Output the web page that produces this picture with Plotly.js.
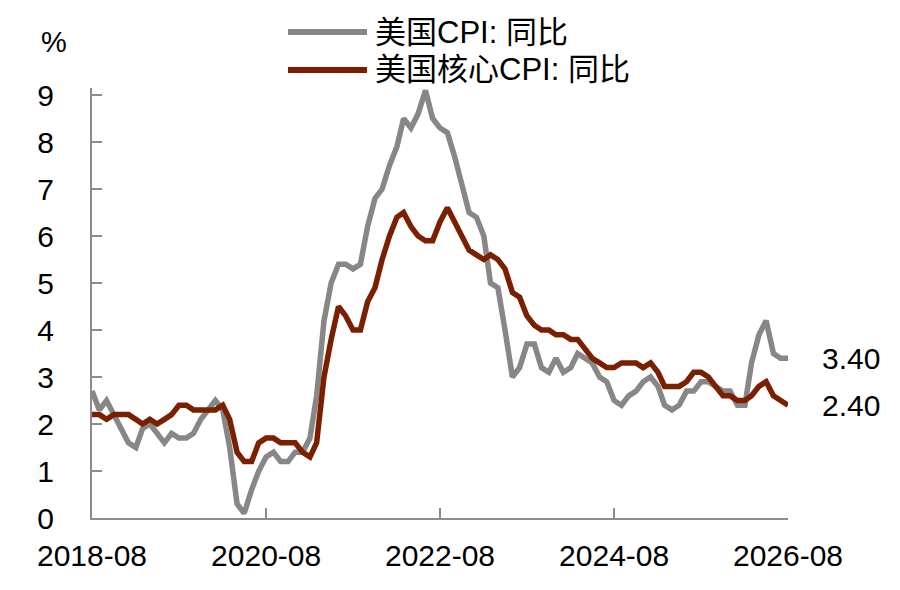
<!DOCTYPE html>
<html>
<head>
<meta charset="utf-8">
<script src="https://cdn.plot.ly/plotly-3.0.1.min.js"></script>
<style>
  html, body { margin: 0; padding: 0; background: #fff; }
  #chart { width: 900px; height: 590px; outline: 2px solid #0000ff; outline-offset: -2px; }
</style>
</head>
<body>
<div id="chart"></div>
<script>
// ---- data ----
const startMonth = '2018-08';
const endMonth = '2026-08';
const seriesNames = ['美国CPI: 同比', '美国核心CPI: 同比'];
const tickLabels = ['2018-08', '2020-08', '2022-08', '2024-08', '2026-08'];
const yTicks = [0, 1, 2, 3, 4, 5, 6, 7, 8, 9];

const cpi = [
  2.7, 2.3, 2.5, 2.2, 1.9,
  1.6, 1.5, 1.9, 2.0, 1.8, 1.6, 1.8, 1.7, 1.7, 1.8, 2.1, 2.3,
  2.5, 2.3, 1.5, 0.3, 0.1, 0.6, 1.0, 1.3, 1.4, 1.2, 1.2, 1.4,
  1.4, 1.7, 2.6, 4.2, 5.0, 5.4, 5.4, 5.3, 5.4, 6.2, 6.8, 7.0,
  7.5, 7.9, 8.5, 8.3, 8.6, 9.1, 8.5, 8.3, 8.2, 7.7, 7.1, 6.5,
  6.4, 6.0, 5.0, 4.9, 4.0, 3.0, 3.2, 3.7, 3.7, 3.2, 3.1, 3.4,
  3.1, 3.2, 3.5, 3.4, 3.3, 3.0, 2.9, 2.5, 2.4, 2.6, 2.7, 2.9,
  3.0, 2.8, 2.4, 2.3, 2.4, 2.7, 2.7, 2.9, 2.9, 2.8, 2.7, 2.7,
  2.4, 2.4, 3.3, 3.9, 4.2, 3.5, 3.4, 3.4
];
const coreCpi = [
  2.2, 2.2, 2.1, 2.2, 2.2,
  2.2, 2.1, 2.0, 2.1, 2.0, 2.1, 2.2, 2.4, 2.4, 2.3, 2.3, 2.3,
  2.3, 2.4, 2.1, 1.4, 1.2, 1.2, 1.6, 1.7, 1.7, 1.6, 1.6, 1.6,
  1.4, 1.3, 1.6, 3.0, 3.8, 4.5, 4.3, 4.0, 4.0, 4.6, 4.9, 5.5,
  6.0, 6.4, 6.5, 6.2, 6.0, 5.9, 5.9, 6.3, 6.6, 6.3, 6.0, 5.7,
  5.6, 5.5, 5.6, 5.5, 5.3, 4.8, 4.7, 4.3, 4.1, 4.0, 4.0, 3.9,
  3.9, 3.8, 3.8, 3.6, 3.4, 3.3, 3.2, 3.2, 3.3, 3.3, 3.3, 3.2,
  3.3, 3.1, 2.8, 2.8, 2.8, 2.9, 3.1, 3.1, 3.0, 2.8, 2.6, 2.6,
  2.5, 2.5, 2.6, 2.8, 2.9, 2.6, 2.5, 2.4
];

// month labels generated from start month (categories of the x axis)
function buildMonths(start, n) {
  const [y0, m0] = start.split('-').map(Number);
  const out = [];
  for (let i = 0; i < n; i++) {
    const t = (m0 - 1) + i;
    const y = y0 + Math.floor(t / 12);
    const m = (t % 12) + 1;
    out.push(y + '-' + String(m).padStart(2, '0') + '-01');
  }
  return out;
}
const months = buildMonths(startMonth, cpi.length);

// ---- styles ----
const GRAY = '#878787';
const RED = '#7a2000';
const AXIS = '#8c8c8c';
const FONT = '"Liberation Sans", Arial, "Noto Sans CJK SC", sans-serif';
const colors = [GRAY, RED];
const series = [cpi, coreCpi];

const traces = series.map((vals, i) => ({
  x: months,
  y: vals,
  type: 'scatter',
  mode: 'lines',
  name: seriesNames[i],
  line: { color: colors[i], width: 5.5 },
  showlegend: false,
  hoverinfo: 'skip'
}));

// custom legend (long line samples like the reference)
const legX0 = 0.2816, legX1 = 0.3951, legTextX = 0.4037;
const legY = [1.1302, 1.0419];
const shapes = legY.map((yy, i) => ({
  type: 'line', xref: 'paper', yref: 'paper',
  x0: legX0, x1: legX1, y0: yy, y1: yy,
  line: { color: colors[i], width: 6 }
}));
const annotations = legY.map((yy, i) => ({
  xref: 'paper', yref: 'paper', x: legTextX, y: yy,
  xanchor: 'left', yanchor: 'middle', showarrow: false,
  text: seriesNames[i], font: { family: FONT, size: 31, color: '#000' }
}));
// % unit label
annotations.push({
  xref: 'paper', yref: 'paper', x: -0.0546, y: 1.107,
  xanchor: 'center', yanchor: 'middle', showarrow: false,
  text: '%', font: { family: FONT, size: 29, color: '#000' }
});
// end value labels
series.forEach((vals, i) => {
  annotations.push({
    x: months[months.length - 1], y: vals[vals.length - 1],
    xref: 'x', yref: 'y', xanchor: 'left', yanchor: 'middle',
    xshift: 32, showarrow: false,
    text: vals[vals.length - 1].toFixed(2),
    font: { family: FONT, size: 30, color: '#000' }
  });
});

const layout = {
  width: 900, height: 590,
  margin: { l: 92, r: 112, t: 88, b: 72 },
  paper_bgcolor: '#ffffff', plot_bgcolor: '#ffffff',
  font: { family: FONT, size: 30, color: '#000' },
  showlegend: false,
  xaxis: {
    type: 'date',
    range: [startMonth + '-01', endMonth + '-01'],
    tickvals: tickLabels.map(t => t + '-01'),
    ticktext: tickLabels,
    showgrid: false, zeroline: false,
    showline: true, linecolor: AXIS, linewidth: 2,
    ticks: 'inside', ticklen: 10, tickwidth: 1.5, tickcolor: AXIS,
    ticklabelstandoff: 10,
    tickfont: { family: FONT, size: 30, color: '#000' }
  },
  yaxis: {
    range: [0, 9.15],
    tickvals: yTicks,
    ticktext: yTicks.map(String),
    showgrid: false, zeroline: false,
    showline: true, linecolor: AXIS, linewidth: 2,
    ticks: 'inside', ticklen: 10, tickwidth: 1.5, tickcolor: AXIS,
    ticklabelstandoff: 30,
    tickfont: { family: FONT, size: 30, color: '#000' }
  },
  shapes: shapes,
  annotations: annotations
};

Plotly.newPlot('chart', traces, layout, { staticPlot: true, displayModeBar: false });
</script>
</body>
</html>
